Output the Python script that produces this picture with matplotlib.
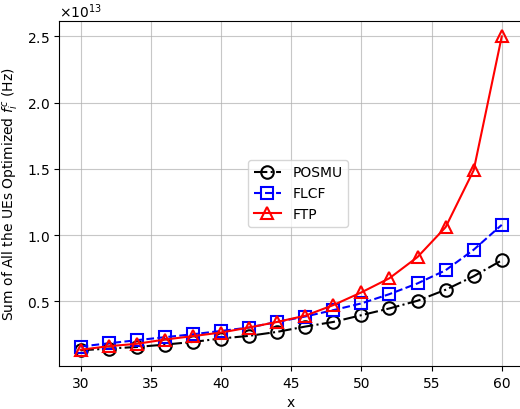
import matplotlib
matplotlib.use("Agg")
import matplotlib.pyplot as plt

x = [30, 32, 34, 36, 38, 40, 42, 44, 46, 48, 50, 52, 54, 56, 58, 60]

# values in units of 1e13 Hz
posmu = [0.131, 0.144, 0.156, 0.174, 0.194, 0.220, 0.240, 0.270,
         0.310, 0.345, 0.396, 0.447, 0.505, 0.588, 0.690, 0.810]
flcf = [0.159, 0.184, 0.207, 0.230, 0.252, 0.277, 0.303, 0.345,
        0.386, 0.434, 0.485, 0.555, 0.636, 0.735, 0.890, 1.078]
ftp = [0.135, 0.162, 0.180, 0.212, 0.238, 0.265, 0.303, 0.345,
       0.392, 0.472, 0.568, 0.675, 0.835, 1.060, 1.490, 2.500]

scale = 1e13

fig = plt.figure(figsize=(5.2, 4.1), dpi=100)
ax = fig.add_axes([0.1144, 0.1049, 0.891, 0.842])

style = dict(fillstyle='none', markersize=9, markeredgewidth=1.5, linewidth=1.5)
ax.plot(x, [v * scale for v in posmu], 'k-.', marker='o', label='POSMU', **style)
ax.plot(x, [v * scale for v in flcf], 'b--', marker='s', label='FLCF', **style)
ax.plot(x, [v * scale for v in ftp], 'r-', marker='^', label='FTP', **style)

ax.ticklabel_format(axis='y', style='sci', scilimits=(0, 0), useMathText=True)
ax.set_xlabel('x')
ax.set_ylabel('Sum of All the UEs Optimized $f_i^c$ (Hz)')
ax.grid(True, alpha=0.7)
ax.legend(loc='center', bbox_to_anchor=(0.515, 0.5))

fig.savefig('out.png', dpi=100)
